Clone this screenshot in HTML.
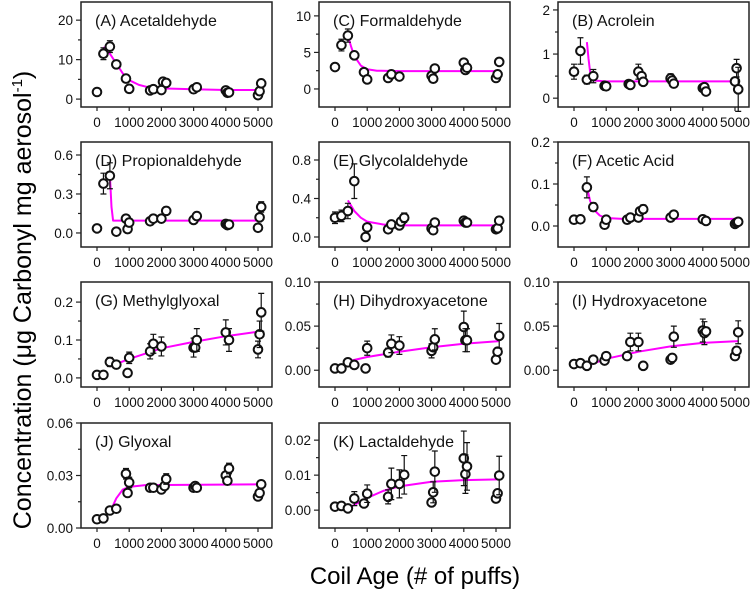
<!DOCTYPE html>
<html><head><meta charset="utf-8">
<style>
html,body{margin:0;padding:0;background:#fff;}
svg{display:block;font-family:"Liberation Sans",Arial,sans-serif;}
</style></head>
<body>
<svg id="chart" width="750" height="603" viewBox="0 0 750 603" xmlns="http://www.w3.org/2000/svg">
<text x="0" y="0" transform="translate(31,300) rotate(-90)" text-anchor="middle" font-size="25" fill="#000">Concentration (μg Carbonyl mg aerosol<tspan dy="-9" font-size="15">-1</tspan><tspan dy="9">)</tspan></text>
<text x="415" y="584" text-anchor="middle" font-size="24" fill="#000">Coil Age (# of puffs)</text>
</svg>
<script>
// x categories shared by panels (puffs)
const xTicks = [0,1000,2000,3000,4000,5000];
// panel titles
const titles = ["(A) Acetaldehyde","(C) Formaldehyde","(B) Acrolein","(D) Propionaldehyde","(E) Glycolaldehyde","(F) Acetic Acid","(G) Methylglyoxal","(H) Dihydroxyacetone","(I) Hydroxyacetone","(J) Glyoxal","(K) Lactaldehyde"];
// y tick labels
const yTickLabels = [["0","10","20"],["0","5","10"],["0","1","2"],["0.0","0.3","0.6"],["0.0","0.4","0.8"],["0.0","0.1","0.2"],["0.0","0.1","0.2"],["0.00","0.05","0.10"],["0.00","0.05","0.10"],["0.00","0.03","0.06"],["0.00","0.01","0.02"]];
// y domains [min,max]
const yDomains = [[-2.0,24.6],[-2.47,11.9],[-0.2,2.18],[-0.108,0.7],[-0.104,0.987],[-0.05,0.2],[-0.024,0.253],[-0.019,0.1],[-0.019,0.1],[0,0.06],[-0.0051,0.0249]];
// measured points [puffs, value, error]
const dA = [[0,1.8,0],[200,11.5,1.5],[400,13.3,1.5],[600,8.8,1],[900,5.2,0],[1000,2.6,0],[1650,2.2,0],[1750,2.5,0],[2000,2.3,0],[2050,4.4,0],[2150,4.1,0],[3000,2.5,0],[3100,3,0],[4000,2.2,0],[4050,1.6,0],[4100,1.7,0],[5000,1,0],[5050,2,0],[5100,4,0]];
const dC = [[0,3,0],[200,6,0.8],[400,7.3,0.9],[600,4.6,0.5],[900,2.3,0],[1000,1.3,0],[1650,1.5,0],[1750,2,0],[2000,1.7,0],[3000,1.8,0],[3050,1.4,0],[3100,2.8,0],[4000,3.6,0],[4050,2.6,0],[4100,2.9,0],[5000,1.5,0],[5050,2,0],[5100,3.7,0]];
const dB = [[0,0.6,0.17],[200,1.07,0.3],[400,0.42,0.1],[600,0.5,0.15],[950,0.28,0],[1000,0.27,0],[1700,0.32,0],[1750,0.3,0],[2000,0.6,0.17],[2100,0.5,0],[2150,0.37,0],[3000,0.45,0.1],[3050,0.4,0],[3100,0.33,0],[4000,0.23,0],[4050,0.25,0],[4100,0.15,0],[5000,0.38,0],[5050,0.68,0.2],[5100,0.2,0.5]];
const dD = [[0,0.035,0],[200,0.38,0.08],[400,0.44,0.1],[600,0.01,0],[900,0.11,0],[950,0.03,0],[1000,0.08,0],[1650,0.09,0],[1750,0.11,0],[2000,0.11,0],[2150,0.17,0.03],[3000,0.1,0],[3100,0.13,0],[4000,0.07,0],[4050,0.06,0],[4100,0.065,0],[5000,0.04,0],[5050,0.12,0],[5100,0.2,0.04]];
const dE = [[0,0.2,0.06],[200,0.22,0.06],[400,0.27,0.08],[600,0.58,0.18],[950,0.0,0],[1000,0.1,0],[1650,0.08,0],[1750,0.13,0],[2000,0.12,0],[2050,0.16,0],[2150,0.2,0.05],[3000,0.09,0],[3050,0.07,0],[3100,0.15,0],[4000,0.17,0],[4050,0.15,0],[4100,0.15,0],[5000,0.08,0],[5050,0.09,0],[5100,0.17,0.04]];
const dF = [[0,0.015,0],[200,0.016,0],[400,0.092,0.025],[600,0.045,0.01],[950,0.003,0],[1000,0.015,0],[1650,0.015,0],[1750,0.02,0],[2000,0.02,0],[2050,0.035,0],[2150,0.04,0.01],[3000,0.02,0],[3100,0.027,0],[4000,0.016,0],[4100,0.012,0],[5000,0.005,0],[5050,0.008,0],[5100,0.01,0]];
const dG = [[0,0.008,0],[200,0.008,0],[400,0.042,0.012],[600,0.035,0],[950,0.013,0],[1000,0.053,0.015],[1650,0.07,0.02],[1750,0.09,0.025],[2000,0.083,0.025],[3000,0.08,0.025],[3050,0.08,0],[3100,0.1,0.03],[4000,0.12,0.033],[4100,0.1,0.03],[5000,0.075,0.022],[5050,0.115,0.035],[5100,0.173,0.05]];
const dH = [[0,0.002,0],[200,0.002,0],[400,0.009,0],[600,0.006,0],[950,0.002,0],[1000,0.025,0.008],[1650,0.02,0.005],[1750,0.03,0.01],[2000,0.028,0.01],[3000,0.022,0.008],[3050,0.026,0],[3100,0.035,0.012],[4000,0.049,0.018],[4050,0.034,0.013],[4100,0.034,0.013],[5000,0.012,0],[5050,0.021,0],[5100,0.039,0.014]];
const dI = [[0,0.007,0],[200,0.008,0],[400,0.005,0],[600,0.012,0],[950,0.011,0],[1000,0.016,0],[1650,0.016,0],[1750,0.032,0.01],[2000,0.032,0.01],[2150,0.005,0],[3000,0.012,0],[3050,0.014,0],[3100,0.038,0.012],[4000,0.045,0.013],[4050,0.042,0.013],[4100,0.044,0],[5000,0.016,0],[5050,0.022,0],[5100,0.043,0.013]];
const dJ = [[0,0.005,0],[200,0.0055,0],[400,0.01,0],[600,0.011,0],[900,0.031,0.003],[950,0.02,0],[1000,0.026,0.003],[1650,0.023,0],[1750,0.023,0],[2000,0.022,0],[2100,0.024,0],[2150,0.028,0.003],[3000,0.023,0],[3050,0.024,0],[3100,0.023,0],[4000,0.03,0],[4050,0.027,0],[4100,0.034,0.003],[5000,0.018,0],[5050,0.02,0],[5100,0.025,0.002]];
const dK = [[0,0.001,0],[200,0.0012,0],[400,0.0005,0],[600,0.0033,0.002],[900,0.0019,0],[1000,0.0047,0.0025],[1650,0.0038,0.002],[1750,0.0075,0.0045],[2000,0.0075,0.004],[2150,0.0101,0.0055],[3000,0.0022,0],[3050,0.0051,0.003],[3100,0.011,0.0059],[4000,0.0148,0.0078],[4050,0.0103,0.0055],[4100,0.0125,0.0068],[5000,0.0033,0],[5050,0.0048,0],[5100,0.0099,0.0055]];
// fitted curves [puffs, value]
const fA = [[200,13.2],[400,11.5],[600,9],[800,6.5],[1000,4.8],[1300,3.6],[1600,3],[2000,2.7],[3000,2.5],[4000,2.3],[5100,2.3]];
const fC = [[400,7.3],[500,5.8],[600,4.5],[800,3.2],[1000,2.7],[1300,2.5],[2000,2.45],[5100,2.45]];
const fB = [[400,1.27],[450,0.9],[500,0.6],[600,0.4],[1000,0.38],[5100,0.38]];
const fD = [[400,0.44],[450,0.2],[500,0.095],[5100,0.095]];
const fE = [[400,0.38],[600,0.27],[800,0.2],[1000,0.16],[1500,0.13],[2000,0.12],[5100,0.12]];
const fF = [[400,0.093],[500,0.06],[600,0.04],[800,0.025],[1000,0.019],[1500,0.017],[5100,0.017]];
const fG = [[400,0.03],[1000,0.05],[2000,0.078],[3000,0.095],[4000,0.11],[5100,0.123]];
const fH = [[400,0.01],[1000,0.015],[2000,0.021],[3000,0.026],[4000,0.03],[5100,0.033]];
const fI = [[400,0.005],[1000,0.013],[2000,0.021],[3000,0.027],[4000,0.031],[5100,0.033]];
const fJ = [[400,0.009],[500,0.013],[600,0.017],[800,0.022],[1000,0.0235],[1500,0.0245],[5100,0.025]];
const fK = [[400,0.0005],[1000,0.0035],[1500,0.0055],[2000,0.0068],[3000,0.0081],[4000,0.0086],[5100,0.0088]];

const points = [dA,dC,dB,dD,dE,dF,dG,dH,dI,dJ,dK];
const fits = [fA,fC,fB,fD,fE,fF,fG,fH,fI,fJ,fK];

const NS = "http://www.w3.org/2000/svg";
const svg = document.getElementById('chart');
const colX = [81,319,558];
const rowY = [2,142,282,423];
const W = 191, H = 105;
function mk(tag, attrs, parent){
  const e = document.createElementNS(NS, tag);
  for (const k in attrs) e.setAttribute(k, attrs[k]);
  (parent||svg).appendChild(e);
  return e;
}
for (let i=0;i<11;i++){
  const L = colX[i%3], T = rowY[Math.floor(i/3)];
  const dom = yDomains[i];
  const xs = v => L + 16 + v/5000*161;
  const ys = v => T + H - (v - dom[0])/(dom[1]-dom[0])*H;
  const g = mk('g', {});
  
  
  const fr = mk('rect', {x:L, y:T, width:W, height:H, fill:'none', stroke:'#222', 'stroke-width':1.5}, g);
  
  
  xTicks.forEach(t => {
    const x = xs(t);
    mk('line', {x1:x, x2:x, y1:T+H, y2:T+H+4, stroke:'#222', 'stroke-width':1.2}, g);
    const tx = mk('text', {x:x, y:T+H+20, 'text-anchor':'middle', 'font-size':13.5, fill:'#111'}, g);
    tx.textContent = t;
    
    
  });
  const lbls = yTickLabels[i];
  const maxV = parseFloat(lbls[2]), step = maxV/2;
  for (let k=0;k<5;k++){
    const v = k*step/2;
    const y = ys(v);
    if (y < T-1 || y > T+H+1) continue;
    const major = k%2===0;
    mk('line', {x1:L-(major?5:3), x2:L, y1:y, y2:y, stroke:'#222', 'stroke-width':1.2}, g);
    if (major){
      const ty = mk('text', {x:L-8, y:y+5, 'text-anchor':'end', 'font-size':13.5, fill:'#111'}, g);
      ty.textContent = lbls[k/2];
      
      
    }
  }
  const tt = mk('text', {x:L+14, y:T+24, 'font-size':16, fill:'#111'}, g);
  tt.textContent = titles[i];
  
  
  const fp = fits[i].map(p => xs(p[0]).toFixed(1)+','+ys(p[1]).toFixed(1)).join(' ');
  const fl = mk('polyline', {points:fp, fill:'none', stroke:'#ff00ff', 'stroke-width':2, 'stroke-linejoin':'round'}, g);
  
  
  points[i].forEach(p => {
    const cx = xs(p[0]), cy = ys(p[1]);
    if (p[2] > 0){
      const y1 = ys(p[1]+p[2]), y2 = ys(p[1]-p[2]);
      const eb = mk('path', {d:`M${cx},${y1}V${y2}M${cx-3},${y1}H${cx+3}M${cx-3},${y2}H${cx+3}`, stroke:'#111', 'stroke-width':1.2, fill:'none'}, g);
      
      
    }
    const c = mk('circle', {cx:cx, cy:cy, r:4.3, fill:'#fff', stroke:'#111', 'stroke-width':2}, g);
    
    
  });
}
</script>
</body></html>
